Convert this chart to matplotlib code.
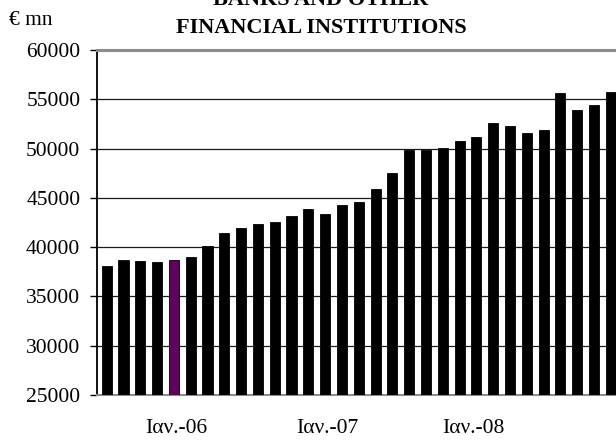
"""Bank deposits bar chart (banks and other financial institutions)."""

import matplotlib

matplotlib.use("Agg")
import matplotlib.pyplot as plt

_FONT = ["Liberation Serif", "DejaVu Serif"]
_BAR = "#000000"
_HIGHLIGHT = "#600060"
_GRID = "#1a1a1a"
_FRAME = "#8c8c8c"

# monthly stock, € mn
values = [
    38100, 38680, 38550, 38450, 38680, 38990, 40070, 41420, 41900, 42330,
    42540, 43210, 43820, 43350, 44230, 44600, 45850, 47570, 49870, 49870,
    50010, 50720, 51150, 52600, 52300, 51630, 51860, 55590, 53900, 54470,
    55760,
]
highlight_index = 4
tick_labels = ["Ιαν.-06", "Ιαν.-07", "Ιαν.-08"]
tick_positions = [4.15, 13.1, 21.8]
y_ticks = [25000, 30000, 35000, 40000, 45000, 50000, 55000, 60000]

plt.rcParams["font.family"] = _FONT

fig = plt.figure(figsize=(6.16, 4.41), dpi=100)
ax = fig.add_axes([97 / 616, 1 - 395 / 441, 519 / 616, 345 / 441])

x = list(range(len(values)))
colors = [_HIGHLIGHT if i == highlight_index else _BAR for i in x]
ax.bar(x, [v - y_ticks[0] for v in values], bottom=y_ticks[0], width=0.6,
       color=colors, edgecolor="#000000", linewidth=0.6, zorder=3)

ax.set_ylim(y_ticks[0], y_ticks[-1])
ax.set_xlim(-0.577, 30.31)
ax.set_yticks(y_ticks)
ax.set_yticklabels([str(v) for v in y_ticks], fontsize=15.5)
ax.set_xticks(tick_positions)
ax.set_xticklabels(tick_labels, fontsize=15.5)
ax.tick_params(axis="x", length=0, pad=17)
ax.tick_params(axis="y", direction="out", length=5, width=1, pad=7, colors="#000000")

for v in y_ticks[1:-1]:
    ax.axhline(v, color=_GRID, linewidth=0.9, zorder=1)

ax.spines["right"].set_visible(False)
ax.spines["top"].set_color(_FRAME)
ax.spines["top"].set_linewidth(2.2)
ax.spines["bottom"].set_color(_FRAME)
ax.spines["bottom"].set_linewidth(1.5)
ax.spines["left"].set_color("#000000")
ax.spines["left"].set_linewidth(1.3)

fig.text(9 / 616, 1 - 25 / 441, "€ mn", fontsize=15.5, ha="left", va="baseline")
fig.text(321 / 616, 1 - 5 / 441, "BANKS AND OTHER", fontsize=16,
         fontweight="bold", ha="center", va="baseline")
fig.text(321 / 616, 1 - 33.3 / 441, "FINANCIAL INSTITUTIONS", fontsize=16,
         fontweight="bold", ha="center", va="baseline")

fig.savefig("out.png", dpi=100, facecolor="white")
